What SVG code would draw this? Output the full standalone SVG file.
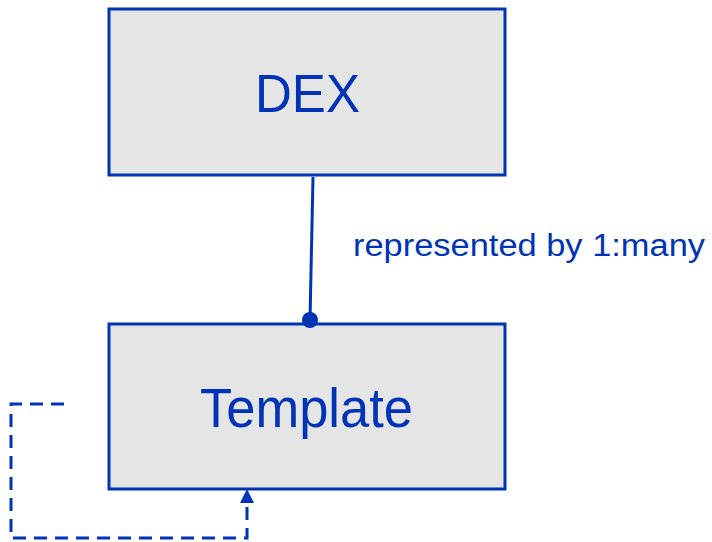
<svg xmlns="http://www.w3.org/2000/svg" width="712" height="542" viewBox="0 0 712 542">
<style>
.box{fill:#e5e5e5;stroke:#0033b5;stroke-width:3}
.t{font-family:"Liberation Sans",Arial,sans-serif;fill:#0033b5}
.c{stroke:#0033b5;stroke-width:3;fill:none}
.d{stroke-dasharray:13,8}
</style>
<rect width="712" height="542" fill="#fff"/>
<g id="dex"><rect class="box" x="109" y="9" width="396" height="166"/><text class="t" x="255" y="112" font-size="54" textLength="105" lengthAdjust="spacingAndGlyphs">DEX</text></g>
<g id="template"><rect class="box" x="109" y="324" width="396" height="165"/><text class="t" x="200" y="427" font-size="55" textLength="213" lengthAdjust="spacingAndGlyphs">Template</text></g>
<g id="connectors">
<line class="c" x1="313" y1="177" x2="310" y2="320"/>
<circle cx="310" cy="320" r="8" fill="#0033b5"/>
<path class="c d" d="M64,404 H11 V538 H247 V502"/>
<polygon points="247,489 240,503 254,503" fill="#0033b5"/>
<text class="t" x="353" y="256" font-size="31" textLength="352" lengthAdjust="spacingAndGlyphs">represented by 1:many</text>
</g>
</svg>
